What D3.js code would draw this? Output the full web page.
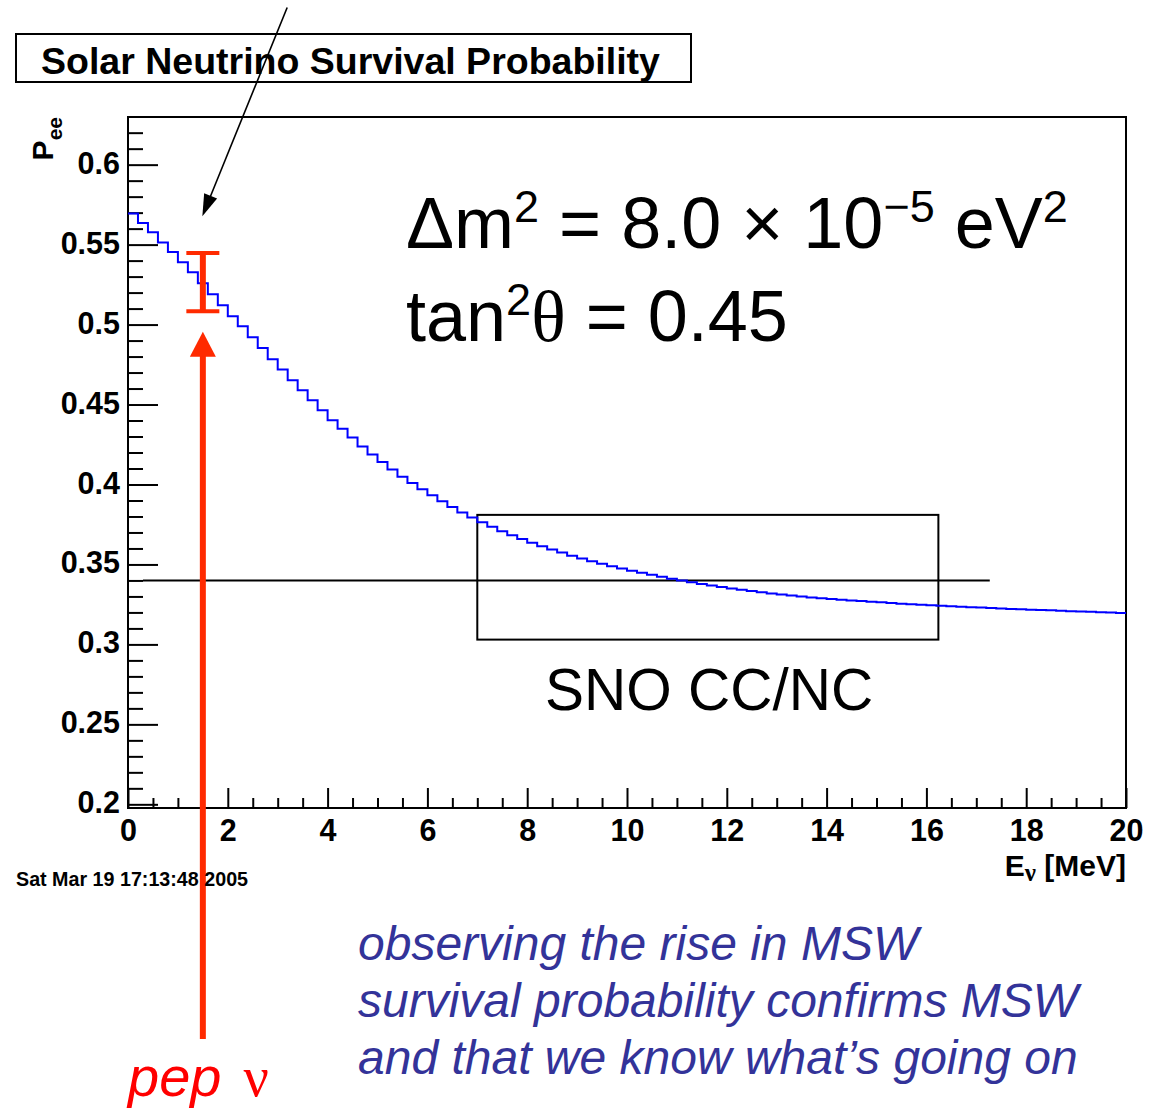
<!DOCTYPE html>
<html>
<head>
<meta charset="utf-8">
<script src="https://cdn.jsdelivr.net/npm/d3@7"></script>
<style>
  html, body { margin: 0; padding: 0; background: #fff; }
  svg { display: block; }
</style>
</head>
<body>
<svg id="chart" width="1152" height="1111"></svg>
<script>
// ---- data -------------------------------------------------------------
// Electron-neutrino survival probability, 100 bins of 0.2 MeV over 0–20 MeV
const energyRange = [0, 20];
const peeBins = [
  0.5694, 0.5635, 0.5577, 0.5514, 0.5454, 0.5389, 0.5327, 0.5258, 0.5189, 0.5121,
  0.5052, 0.4989, 0.4921, 0.4854, 0.4783, 0.4719, 0.4652, 0.4589, 0.4527, 0.4464,
  0.4402, 0.4348, 0.4294, 0.4237, 0.4188, 0.4140, 0.4094, 0.4048, 0.4010, 0.3971,
  0.3932, 0.3895, 0.3859, 0.3825, 0.3793, 0.3764, 0.3735, 0.3708, 0.3683, 0.3659,
  0.3636, 0.3614, 0.3594, 0.3574, 0.3555, 0.3537, 0.3520, 0.3504, 0.3489, 0.3475,
  0.3461, 0.3448, 0.3435, 0.3423, 0.3411, 0.3400, 0.3389, 0.3378, 0.3368, 0.3359,
  0.3350, 0.3342, 0.3334, 0.3326, 0.3319, 0.3312, 0.3306, 0.3300, 0.3294, 0.3289,
  0.3284, 0.3279, 0.3275, 0.3271, 0.3267, 0.3263, 0.3259, 0.3255, 0.3251, 0.3248,
  0.3245, 0.3242, 0.3239, 0.3236, 0.3233, 0.3230, 0.3227, 0.3225, 0.3222, 0.3220,
  0.3217, 0.3215, 0.3213, 0.3210, 0.3208, 0.3206, 0.3204, 0.3201, 0.3199, 0.3197
];
const peeRange = [0.1977, 0.6298];

const xTickValues = [0, 2, 4, 6, 8, 10, 12, 14, 16, 18, 20];
const xTickLabels = ["0", "2", "4", "6", "8", "10", "12", "14", "16", "18", "20"];
const yTickValues = [0.2, 0.25, 0.3, 0.35, 0.4, 0.45, 0.5, 0.55, 0.6];
const yTickLabels = ["0.2", "0.25", "0.3", "0.35", "0.4", "0.45", "0.5", "0.55", "0.6"];

// SNO CC/NC measurement: ratio line and energy/probability window
const snoRatioP = 0.34;
const snoRatioE = [0.3, 17.27];
const snoBoxE = [7.0, 16.24];
const snoBoxP = [0.303, 0.381];

// pep neutrino: projected measurement and error
const pepE = 1.5;
const pepP = 0.5265;
const pepErr = 0.0182;
// pointer arrows (energy, probability)
const pepArrowFrom = [1.5, 0.0533];
const pepArrowTo = [1.5, 0.4955];
const noteArrowFrom = [3.19, 0.6983];
const noteArrowTo = [1.49, 0.5677];

const noteLines = [
  "observing the rise in MSW",
  "survival probability confirms MSW",
  "and that we know what\u2019s going on"
];

// ---- drawing ----------------------------------------------------------
const SANS = "'Liberation Sans', Arial, Helvetica, sans-serif";
const SERIF = "'Liberation Serif', 'Times New Roman', serif";
const RED = "#ff2a00";

const svg = d3.select("#chart");
const frame = { left: 128, right: 1126, top: 117, bottom: 808 };

const x = d3.scaleLinear().domain(energyRange).range([frame.left, frame.right]);
const y = d3.scaleLinear().domain(peeRange).range([frame.bottom, frame.top]);

// title box
svg.append("rect")
  .attr("x", 16).attr("y", 34).attr("width", 675).attr("height", 48)
  .attr("fill", "#fff").attr("stroke", "#000").attr("stroke-width", 2);
svg.append("text")
  .attr("x", 41).attr("y", 74)
  .attr("font-family", SANS).attr("font-weight", "bold").attr("font-size", 37.5)
  .text("Solar Neutrino Survival Probability");

// frame
svg.append("rect")
  .attr("x", frame.left).attr("y", frame.top)
  .attr("width", frame.right - frame.left).attr("height", frame.bottom - frame.top)
  .attr("fill", "none").attr("stroke", "#000").attr("stroke-width", 2);

// y axis: major ticks with labels, minor ticks every 0.01
const yMinor = d3.range(20, 63).map(v => v / 100).filter(v => Math.round(v * 100) % 5 !== 0);
const yAxisMajor = svg.append("g")
  .attr("transform", `translate(${frame.left},0)`)
  .call(d3.axisLeft(y).tickValues(yTickValues).tickSize(-30).tickPadding(8)
    .tickFormat((d, i) => yTickLabels[i]));
const yAxisMinor = svg.append("g")
  .attr("transform", `translate(${frame.left},0)`)
  .call(d3.axisLeft(y).tickValues(yMinor).tickSize(-15).tickFormat(""));

// x axis: major ticks every 2 MeV, minor every 0.5 MeV
const xMinor = d3.range(1, 40).map(v => v / 2).filter(v => v % 2 !== 0);
const xAxisMajor = svg.append("g")
  .attr("transform", `translate(0,${frame.bottom})`)
  .call(d3.axisBottom(x).tickValues(xTickValues).tickSize(-20).tickPadding(11)
    .tickFormat((d, i) => xTickLabels[i]));
const xAxisMinor = svg.append("g")
  .attr("transform", `translate(0,${frame.bottom})`)
  .call(d3.axisBottom(x).tickValues(xMinor).tickSize(-10).tickFormat(""));

[yAxisMajor, yAxisMinor, xAxisMajor, xAxisMinor].forEach(g => {
  g.select(".domain").remove();
  g.selectAll(".tick line").attr("stroke", "#000").attr("stroke-width", 2);
  g.selectAll(".tick text")
    .attr("fill", "#000")
    .attr("font-family", SANS).attr("font-weight", "bold").attr("font-size", 30.5);
});
yAxisMajor.selectAll(".tick text").attr("dy", "0.28em");

// axis titles
const yTitle = svg.append("text")
  .attr("transform", `translate(53,${frame.top}) rotate(-90)`)
  .attr("text-anchor", "end")
  .attr("font-family", SANS).attr("font-weight", "bold");
yTitle.append("tspan").attr("font-size", 30).text("P");
yTitle.append("tspan").attr("font-size", 21).attr("dy", 9).text("ee");

const xTitle = svg.append("text")
  .attr("x", frame.right).attr("y", 876)
  .attr("text-anchor", "end")
  .attr("font-family", SANS).attr("font-weight", "bold").attr("font-size", 30);
xTitle.append("tspan").text("E");
xTitle.append("tspan").attr("font-family", SERIF).attr("font-size", 25).attr("dy", 5).text("\u03bd");
xTitle.append("tspan").attr("dy", -5).text(" [MeV]");

// SNO window and ratio line
svg.append("rect")
  .attr("x", x(snoBoxE[0])).attr("y", y(snoBoxP[1]))
  .attr("width", x(snoBoxE[1]) - x(snoBoxE[0]))
  .attr("height", y(snoBoxP[0]) - y(snoBoxP[1]))
  .attr("fill", "none").attr("stroke", "#000").attr("stroke-width", 2);
svg.append("line")
  .attr("x1", x(snoRatioE[0])).attr("x2", x(snoRatioE[1]))
  .attr("y1", y(snoRatioP)).attr("y2", y(snoRatioP))
  .attr("stroke", "#000").attr("stroke-width", 2);

// survival probability histogram (step line)
const binWidth = (energyRange[1] - energyRange[0]) / peeBins.length;
const stepPoints = peeBins.map((v, i) => [energyRange[0] + i * binWidth, v]);
stepPoints.push([energyRange[1], peeBins[peeBins.length - 1]]);
svg.append("path")
  .datum(stepPoints)
  .attr("fill", "none").attr("stroke", "#0000ff").attr("stroke-width", 2)
  .attr("d", d3.line().x(d => x(d[0])).y(d => y(d[1])).curve(d3.curveStepAfter));

// pep error bar
const capHalf = 16.5;
svg.append("line")
  .attr("x1", x(pepE)).attr("x2", x(pepE))
  .attr("y1", y(pepP + pepErr)).attr("y2", y(pepP - pepErr))
  .attr("stroke", RED).attr("stroke-width", 6);
[pepP + pepErr, pepP - pepErr].forEach(v => {
  svg.append("line")
    .attr("x1", x(pepE) - capHalf).attr("x2", x(pepE) + capHalf)
    .attr("y1", y(v)).attr("y2", y(v))
    .attr("stroke", RED).attr("stroke-width", 4);
});

// arrows
function arrow(from, to, color, width, headLen, headHalf) {
  const x0 = x(from[0]), y0 = y(from[1]), x1 = x(to[0]), y1 = y(to[1]);
  const dx = x1 - x0, dy = y1 - y0, len = Math.hypot(dx, dy);
  const ux = dx / len, uy = dy / len;
  const bx = x1 - ux * headLen, by = y1 - uy * headLen;
  svg.append("line")
    .attr("x1", x0).attr("y1", y0).attr("x2", bx + ux * 2).attr("y2", by + uy * 2)
    .attr("stroke", color).attr("stroke-width", width);
  svg.append("polygon")
    .attr("points", [[x1, y1], [bx - uy * headHalf, by + ux * headHalf], [bx + uy * headHalf, by - ux * headHalf]]
      .map(p => p.join(",")).join(" "))
    .attr("fill", color);
}
arrow(pepArrowFrom, pepArrowTo, RED, 6, 25, 13);
arrow(noteArrowFrom, noteArrowTo, "#000", 1.6, 22, 7);

// oscillation parameters
const SUP_SHIFT = 26;
const sup = (t, s) => t.append("tspan").attr("font-size", 45).attr("dy", -SUP_SHIFT).text(s);
const params1 = svg.append("text")
  .attr("x", 406).attr("y", 248)
  .attr("font-family", SANS).attr("font-size", 72);
params1.append("tspan").text("\u0394m");
sup(params1, "2");
params1.append("tspan").attr("dy", SUP_SHIFT).text(" = 8.0 \u00d7 10");
sup(params1, "\u22125");
params1.append("tspan").attr("dy", SUP_SHIFT).text(" eV");
sup(params1, "2");

const params2 = svg.append("text")
  .attr("x", 406).attr("y", 341)
  .attr("font-family", SANS).attr("font-size", 72);
params2.append("tspan").text("tan");
sup(params2, "2");
params2.append("tspan").attr("dy", SUP_SHIFT).attr("font-family", SERIF).text("\u03b8");
params2.append("tspan").text(" = 0.45");

// SNO label
svg.append("text")
  .attr("x", 545).attr("y", 710)
  .attr("font-family", SANS).attr("font-size", 58.5)
  .text("SNO CC/NC");

// timestamp
svg.append("text")
  .attr("x", 16).attr("y", 886)
  .attr("font-family", SANS).attr("font-weight", "bold").attr("font-size", 19.7)
  .text("Sat Mar 19 17:13:48 2005");

// pep label
const pepLabel = svg.append("text")
  .attr("x", 128).attr("y", 1096)
  .attr("fill", "#ff0000").attr("font-size", 56);
pepLabel.append("tspan").attr("font-family", SANS).attr("font-style", "italic").text("pep");
pepLabel.append("tspan").attr("font-family", SERIF).attr("dx", 22).text("\u03bd");

// commentary
svg.append("g").selectAll("text")
  .data(noteLines)
  .join("text")
  .attr("x", 358).attr("y", (d, i) => 960 + i * 57)
  .attr("fill", "#333399")
  .attr("font-family", SANS).attr("font-style", "italic").attr("font-size", 48)
  .text(d => d);
</script>
</body>
</html>
